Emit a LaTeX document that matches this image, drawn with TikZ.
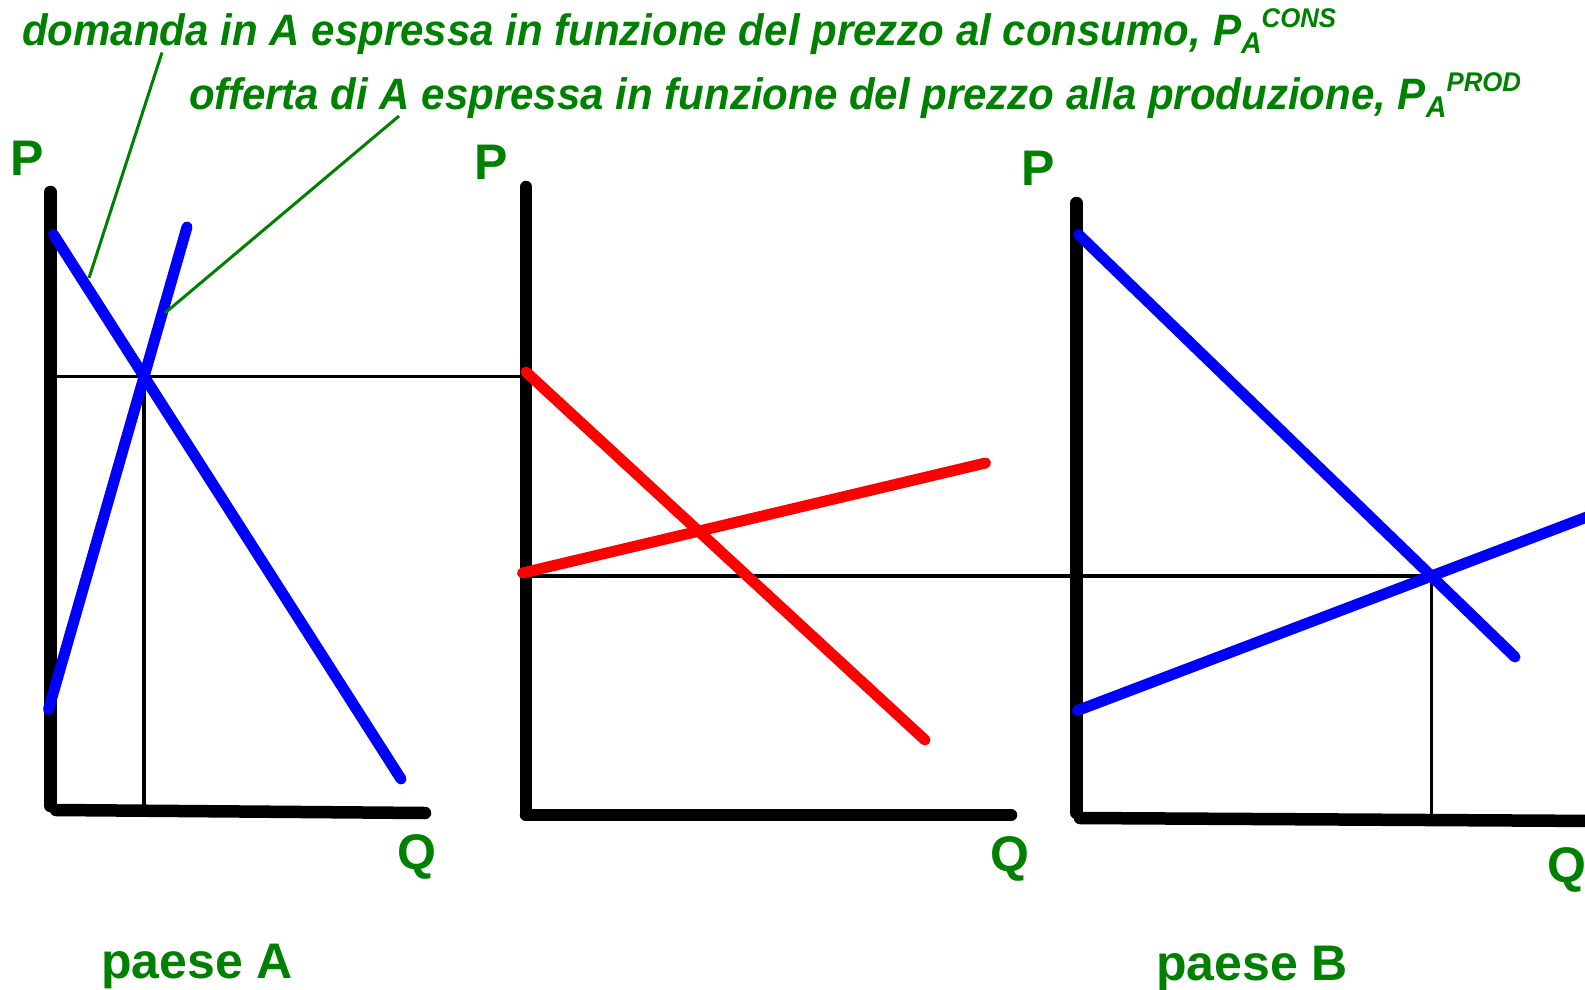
\documentclass[tikz,border=0pt]{standalone}
\usepackage{fontspec}
\setmainfont{Liberation Sans}
\newfontfamily\capfont[FakeStretch=0.955]{Liberation Sans}
\definecolor{dgreen}{RGB}{0,128,0}
\newcommand\PAlabel[1]{P\raisebox{-0.18em}{\fontsize{30}{30}\selectfont A}\raisebox{0.42em}{\fontsize{27}{27}\selectfont #1}}
\begin{document}
\begin{tikzpicture}[x=1pt,y=-1pt,
  axis/.style={line width=12.5pt,line cap=round,black},
  curveb/.style={line width=11pt,line cap=round,blue},
  curver/.style={line width=11pt,line cap=round,red},
  guide/.style={line width=3.4pt,black},
  leader/.style={line width=3pt,dgreen},
  lbl/.style={text=dgreen,font=\fontsize{50}{50}\selectfont\bfseries,inner sep=0pt,anchor=base},
  captxt/.style={text=dgreen,font=\capfont\fontsize{44}{44}\selectfont\bfseries\itshape,inner sep=0pt,anchor=base west}]
\useasboundingbox (0,0) rectangle (1585,990);
\clip (0,0) rectangle (1585,990);

% ---- coordinates: panel A
\coordinate (Ay0) at (50.5,192); \coordinate (Ay1) at (50.5,806);
\coordinate (Ax0) at (56,810);   \coordinate (Ax1) at (425,813);
\coordinate (Ad0) at (53.5,234.5); \coordinate (Ad1) at (401,779);
\coordinate (As0) at (187,227);  \coordinate (As1) at (48.5,709.5);
\coordinate (AE) at (intersection of Ad0--Ad1 and As0--As1);
% ---- middle panel
\coordinate (My0) at (526,187);  \coordinate (My1) at (526,812);
\coordinate (Mx0) at (526,815);  \coordinate (Mx1) at (1011,815);
\coordinate (Md0) at (526,372);  \coordinate (Md1) at (925,740);
\coordinate (Ms0) at (522.5,573); \coordinate (Ms1) at (985.5,463);
\coordinate (MG) at (526,576);
% ---- panel B
\coordinate (By0) at (1076.5,203); \coordinate (By1) at (1076.5,813);
\coordinate (Bx0) at (1080,818);   \coordinate (Bx1) at (1600,821);
\coordinate (Bd0) at (1078.5,234.5); \coordinate (Bd1) at (1515,657);
\coordinate (Bs0) at (1077.5,710.5); \coordinate (Bs1) at (1600,512);
\coordinate (BE) at (intersection of Bd0--Bd1 and Bs0--Bs1);

% ---- guide lines
\draw[guide] (Ay0 |- AE) -- (My0 |- AE);
\draw[guide] (AE) -- (AE |- Ax0);
\draw[guide] (MG) -- (By0 |- MG);
\draw[guide] (By0 |- BE) -- (BE) -- (BE |- Bx0);

% ---- axes
\draw[axis] (Ay0) -- (Ay1); \draw[axis] (Ax0) -- (Ax1);
\draw[axis] (My0) -- (My1); \draw[axis] (Mx0) -- (Mx1);
\draw[axis] (By0) -- (By1); \draw[axis] (Bx0) -- (Bx1);

% ---- curves
\draw[curveb] (Ad0) -- (Ad1);
\draw[curveb] (As0) -- (As1);
\draw[curver] (Md0) -- (Md1);
\draw[curver] (Ms0) -- (Ms1);
\draw[curveb] (Bd0) -- (Bd1);
\draw[curveb] (Bs0) -- (Bs1);

% ---- axis labels
\node[lbl] (PA) at (27.5,175) {P};
\node[lbl] (QA) at (417,869) {Q};
\node[lbl] (PM) at (491,179) {P};
\node[lbl] (QM) at (1010,871) {Q};
\node[lbl] (PB) at (1038,185) {P};
\node[lbl] (QB) at (1567,882) {Q};
\node[lbl] (paeseA) at (197,978) {paese A};
\node[lbl] (paeseB) at (1252,980) {paese B};

% ---- captions and leaders
\node[captxt] (cap1) at (22,46) {domanda in A espressa in funzione del prezzo al consumo, \PAlabel{CONS}};
\node[captxt] (cap2) at (189,110) {offerta di A espressa in funzione del prezzo alla produzione, \PAlabel{PROD}};
\coordinate (L1a) at (162,52.5); \coordinate (L1b) at (89,278);
\coordinate (L2a) at (399,116);  \coordinate (L2b) at (165,313);
\draw[leader] (L1a) -- (L1b);
\draw[leader] (L2a) -- (L2b);
\end{tikzpicture}
\end{document}
